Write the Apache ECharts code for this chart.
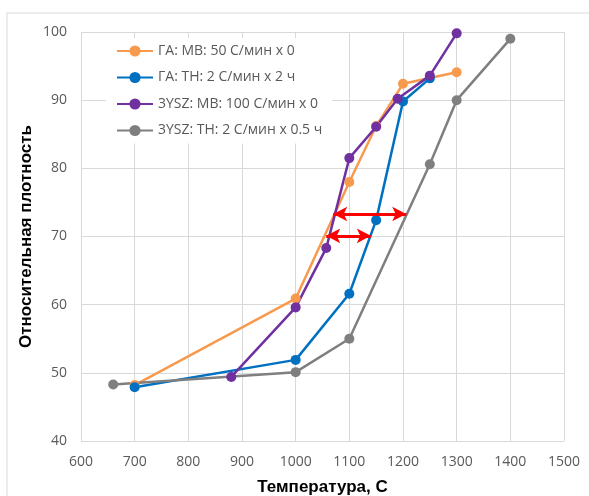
<!DOCTYPE html>
<html>
<head>
<meta charset="utf-8">
<script src="https://cdn.jsdelivr.net/npm/echarts@6/dist/echarts.min.js"></script>
<style>
  html, body { margin: 0; padding: 0; background: #fff; }
  #main { width: 589px; height: 496px; }
</style>
</head>
<body>
<div id="main"></div>
<script>
var names = ['ГА: МВ: 50 С/мин х 0', 'ГА: ТН: 2 С/мин х 2 ч', '3YSZ: МВ: 100 С/мин х 0', '3YSZ: ТН: 2 С/мин х 0.5 ч'];
var colors = ['#F79A4E', '#0070C0', '#7030A0', '#7F7F7F'];

var gaMbX = [700, 1000, 1100, 1150, 1200, 1300];
var gaMbY = [48.2, 60.9, 78.0, 86.2, 92.4, 94.1];

var gaThX = [700, 1000, 1100, 1150, 1200, 1250];
var gaThY = [47.9, 51.9, 61.6, 72.4, 89.8, 93.2];

var yszMbX = [880, 1000, 1057, 1100, 1150, 1190, 1250, 1300];
var yszMbY = [49.4, 59.6, 68.3, 81.5, 86.1, 90.2, 93.6, 99.8];

var yszThX = [660, 1000, 1100, 1250, 1300, 1400];
var yszThY = [48.3, 50.1, 55.0, 80.6, 90.0, 99.0];

// red double arrows: [x1, x2, y]
var arrowWide = [1070, 1206, 73.3];
var arrowNarrow = [1057, 1140, 70.1];

function pairs(xs, ys) {
    var out = [];
    for (var i = 0; i < xs.length; i++) out.push([xs[i], ys[i]]);
    return out;
}

var myChart = echarts.init(document.getElementById('main'));

var lineSeries = function (name, xs, ys, color) {
    return {
        name: name,
        type: 'line',
        data: pairs(xs, ys),
        symbol: 'circle',
        symbolSize: 10,
        lineStyle: { color: color, width: 2.5 },
        itemStyle: { color: color },
        animation: false
    };
};

var option = {
    animation: false,
    color: colors,
    graphic: [{
        type: 'rect',
        shape: { x: 7, y: 13, width: 600, height: 500 },
        style: { fill: 'none', stroke: '#D9D9D9', lineWidth: 1 },
        silent: true,
        z: -1
    }],
    grid: { left: 81, right: 25, top: 32, bottom: 55, outerBoundsMode: 'none' },
    legend: {
        orient: 'vertical',
        left: 106,
        top: 38,
        padding: [6, 10, 6, 10],
        itemGap: 12.5,
        itemWidth: 36,
        itemHeight: 14,
        backgroundColor: '#fff',
        textStyle: { color: '#595959', fontSize: 14, fontFamily: 'Open Sans' },
        data: names
    },
    xAxis: {
        type: 'value',
        min: 600,
        max: 1500,
        interval: 100,
        name: 'Температура, С',
        nameLocation: 'middle',
        nameGap: 38,
        nameTextStyle: { color: '#000', fontSize: 17, fontWeight: 'bold', fontFamily: 'Liberation Sans' },
        axisLine: { show: false },
        axisTick: { show: false },
        axisLabel: { color: '#595959', fontSize: 14, fontFamily: 'Open Sans', margin: 14, formatter: function (v) { return String(v); } },
        splitLine: { show: true, showMinLine: true, showMaxLine: true, lineStyle: { color: '#D9D9D9', width: 1 } }
    },
    yAxis: {
        type: 'value',
        min: 40,
        max: 100,
        interval: 10,
        name: 'Относительная плотность',
        nameLocation: 'middle',
        nameGap: 46,
        nameMoveOverlap: false,
        nameTextStyle: { color: '#000', fontSize: 17, fontWeight: 'bold', fontFamily: 'Liberation Sans' },
        axisLine: { show: false },
        axisTick: { show: false },
        axisLabel: { color: '#595959', fontSize: 14, fontFamily: 'Open Sans', margin: 14 },
        splitLine: { show: true, showMinLine: true, showMaxLine: true, lineStyle: { color: '#D9D9D9', width: 1 } }
    },
    series: [
        lineSeries(names[0], gaMbX, gaMbY, colors[0]),
        lineSeries(names[1], gaThX, gaThY, colors[1]),
        lineSeries(names[2], yszMbX, yszMbY, colors[2]),
        lineSeries(names[3], yszThX, yszThY, colors[3]),
        {
            name: 'arrows',
            type: 'line',
            data: [],
            markLine: {
                silent: true,
                symbol: ['arrow', 'arrow'],
                symbolSize: [11, 14],
                label: { show: false },
                lineStyle: { color: '#FF0000', width: 3, type: 'solid' },
                data: [
                    [{ coord: [arrowWide[0], arrowWide[2]] }, { coord: [arrowWide[1], arrowWide[2]] }],
                    [{ coord: [arrowNarrow[0], arrowNarrow[2]] }, { coord: [arrowNarrow[1], arrowNarrow[2]] }]
                ]
            }
        }
    ]
};

myChart.setOption(option);
</script>
</body>
</html>
